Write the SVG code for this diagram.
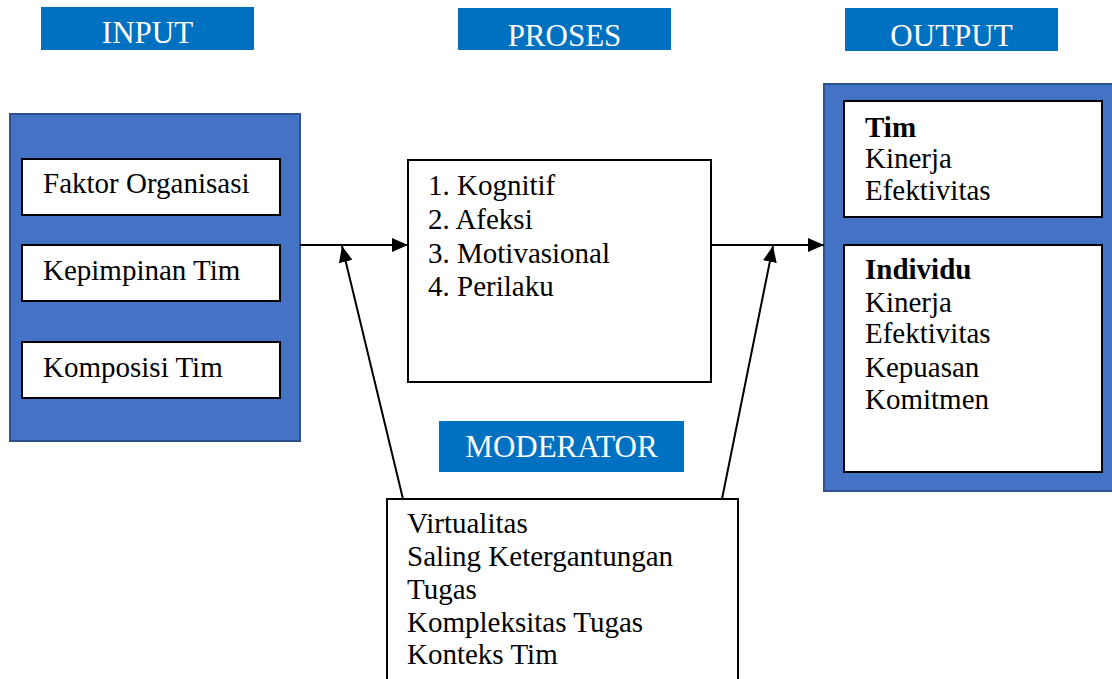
<svg xmlns="http://www.w3.org/2000/svg" width="1112" height="679" viewBox="0 0 1112 679">
<defs>
<marker id="ah" markerUnits="userSpaceOnUse" markerWidth="16" markerHeight="14" refX="16" refY="7" orient="auto">
<path d="M0,0 L16,7 L0,14 z" fill="#000"/>
</marker>
<style>
.hdr{fill:#0070C0}
.hdrt{fill:#fff;font-family:"Liberation Serif",serif;font-size:31px;text-anchor:middle}
.blue{fill:#4472C4;stroke:#2F528F;stroke-width:2}
.box{fill:#fff;stroke:#000;stroke-width:2}
.t{font-family:"Liberation Serif",serif;font-size:29px;fill:#000}
.b{font-weight:bold}
.con{stroke:#000;stroke-width:2;fill:none;marker-end:url(#ah)}
</style>
</defs>
<rect width="1112" height="679" fill="#fff"/>
<g id="hdr-input"><rect class="hdr" x="41" y="7" width="213" height="43"/><text class="hdrt" x="147.5" y="43">INPUT</text></g>
<g id="hdr-proses"><rect class="hdr" x="458" y="8" width="213" height="42"/><text class="hdrt" x="564.5" y="46">PROSES</text></g>
<g id="hdr-output"><rect class="hdr" x="845" y="8" width="213" height="43"/><text class="hdrt" x="951.5" y="46">OUTPUT</text></g>
<g id="input">
<rect class="blue" x="10" y="114" width="290" height="327"/>
<rect class="box" x="22" y="159" width="258" height="56"/><text class="t" x="43" y="193">Faktor Organisasi</text>
<rect class="box" x="22" y="245" width="258" height="56"/><text class="t" x="43" y="280">Kepimpinan Tim</text>
<rect class="box" x="22" y="342" width="258" height="56"/><text class="t" x="43" y="377">Komposisi Tim</text>
</g>
<g id="proses">
<rect class="box" x="408" y="160" width="303" height="222"/>
<text class="t" x="428" y="195">1. Kognitif</text>
<text class="t" x="428" y="229">2. Afeksi</text>
<text class="t" x="428" y="263">3. Motivasional</text>
<text class="t" x="428" y="296">4. Perilaku</text>
</g>
<g id="output">
<rect class="blue" x="824" y="84" width="300" height="407"/>
<rect class="box" x="844" y="101" width="258" height="116"/>
<text class="t b" x="865" y="137">Tim</text>
<text class="t" x="865" y="168">Kinerja</text>
<text class="t" x="865" y="200">Efektivitas</text>
<rect class="box" x="844" y="245" width="258" height="227"/>
<text class="t b" x="865" y="279">Individu</text>
<text class="t" x="865" y="312">Kinerja</text>
<text class="t" x="865" y="343">Efektivitas</text>
<text class="t" x="865" y="377">Kepuasan</text>
<text class="t" x="865" y="409">Komitmen</text>
</g>
<g id="hdr-moderator"><rect class="hdr" x="439" y="421" width="245" height="51"/><text class="hdrt" x="561.5" y="457">MODERATOR</text></g>
<g id="moderator">
<rect class="box" x="387" y="499" width="351" height="190"/>
<text class="t" x="407" y="533">Virtualitas</text>
<text class="t" x="407" y="566">Saling Ketergantungan</text>
<text class="t" x="407" y="599">Tugas</text>
<text class="t" x="407" y="632">Kompleksitas Tugas</text>
<text class="t" x="407" y="664">Konteks Tim</text>
</g>
<g id="connectors">
<line class="con" x1="300" y1="245" x2="408" y2="245"/>
<line class="con" x1="711" y1="245" x2="824" y2="245"/>
<line class="con" x1="403" y1="499" x2="342" y2="246"/>
<line class="con" x1="722" y1="499" x2="773" y2="246"/>
</g>
</svg>
